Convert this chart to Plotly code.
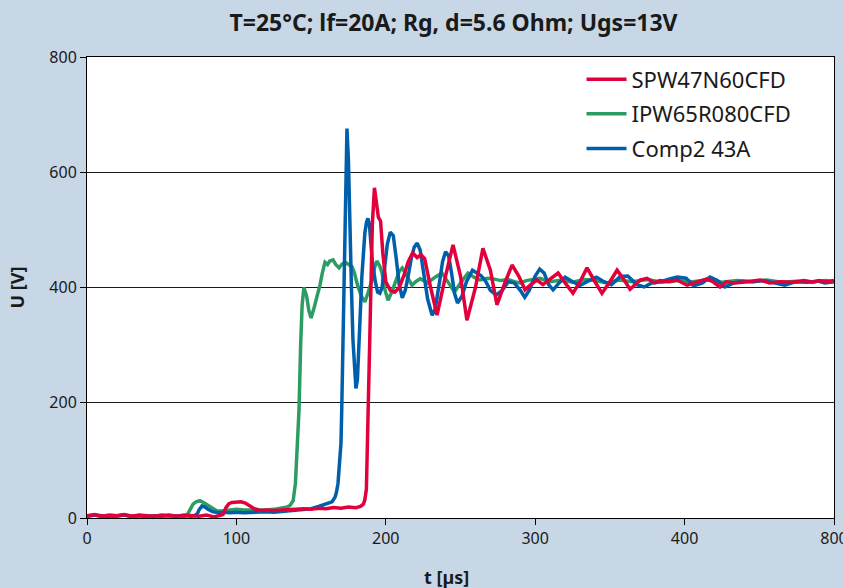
import plotly.graph_objects as go

# ---------------- data ----------------
red_name = "SPW47N60CFD"
red_t = [0, 5, 10, 15, 20, 25, 30, 35, 40, 45,
         50, 55, 60, 65, 70, 75, 80, 85, 88, 91,
         93, 95, 97, 100, 103, 106, 109, 112, 116, 120,
         125, 130, 135, 140, 145, 150, 155, 160, 165, 170,
         175, 180, 183, 185, 186, 187, 188.1, 189, 190, 191,
         192.4, 193.5, 195, 196.5, 198, 200, 203, 206, 209, 212,
         215, 218, 221, 223.5, 226, 230, 234.3, 240, 245, 250,
         254.3, 260, 265, 270, 274.4, 280, 284.5, 289, 293.2, 297,
         301.2, 305.2, 310, 315.3, 320, 325.3, 330, 334.7, 340, 344.7,
         350, 354.8, 359, 363.5, 370.2, 374.8, 380, 383.5, 390, 395,
         401.6, 408, 415, 419, 423.7, 428, 433.7, 441.8, 450.5, 457,
         463.9, 472.6, 480, 485.9, 490, 495.3, 500]
red_v = [4, 6, 3, 5, 4, 6, 3, 5, 4, 3,
         5, 4, 3, 5, 4, 3, 5, 2, 4, 6,
         18, 25, 27, 28, 28, 26, 21, 16, 13, 14,
         13, 14, 15, 15, 16, 15, 17, 16, 18, 17,
         19, 18, 20, 24, 32, 50, 187, 300, 420, 510,
         573, 555, 522, 515, 460, 410, 395, 392, 400, 420,
         445, 460, 452, 457, 450, 400, 352, 420, 474, 420,
         343, 400, 468, 430, 370, 410, 439, 420, 396, 405,
         413, 405, 415, 425, 408, 390, 410, 434, 410, 390,
         410, 430, 415, 397, 413, 416, 408, 412, 410, 413,
         404, 409, 415, 410, 401, 410, 408, 410, 413, 408,
         410, 409, 412, 409, 412, 410, 412]

green_name = "IPW65R080CFD"
green_t = [0, 5, 10, 15, 20, 25, 30, 35, 40, 45,
           50, 55, 60, 65, 67, 69, 71, 73, 75.6, 78,
           81, 84, 87, 90, 95, 100, 105, 110, 115, 120,
           125, 130, 134, 136, 138, 139.5, 140.5, 141.9, 143, 144,
           145.2, 147, 148.5, 150, 152, 154, 156, 157.5, 159.3, 161,
           162.5, 164.7, 166.5, 168.7, 170.5, 172.7, 175, 177.4, 179, 181.4,
           184, 186, 188, 190.8, 192.5, 194, 196, 197.5, 199, 201.5,
           204, 207, 209, 211, 214, 217.5, 220, 223, 225.5, 228,
           233, 237.6, 242, 246, 250, 255, 259, 263, 268, 272,
           277, 282, 286, 290, 294, 298, 303, 310, 318, 325,
           333, 340, 348, 356, 365, 375, 385, 395, 405, 415,
           425, 435, 445, 455, 465, 475, 485, 495, 500]
green_v = [3, 5, 2, 4, 3, 5, 2, 4, 3, 2,
           4, 3, 4, 3, 5, 15, 24, 28, 30, 27,
           22, 16, 12, 12, 14, 15, 14, 14, 13, 14,
           15, 17, 19, 22, 30, 60, 110, 187, 300, 370,
           400, 385, 360, 347, 365, 384, 405, 425, 444, 440,
           446, 448, 440, 434, 440, 444, 440, 436, 425, 401,
           383, 375, 390, 413, 435, 446, 437, 425, 400, 378,
           392, 415, 428, 434, 420, 404, 410, 415, 412, 408,
           418, 425, 408, 392, 408, 425, 418, 413, 416, 415,
           412, 414, 410, 408, 412, 414, 416, 410, 413, 409,
           414, 412, 408, 413, 410, 414, 409, 412, 410, 413,
           409, 412, 410, 413, 409, 411, 410, 412, 410]

blue_name = "Comp2 43A"
blue_t = [0, 5, 10, 15, 20, 25, 30, 35, 40, 45,
          50, 55, 60, 65, 70, 72, 74, 75, 77, 79,
          81, 84, 88, 92, 96, 100, 105, 110, 115, 120,
          125, 130, 135, 140, 145, 150, 155, 160, 164, 166,
          167, 168, 169, 170, 170.5, 171.5, 172.5, 173.3, 174, 175,
          176, 177, 178, 179, 180, 181, 182, 183, 184, 185,
          186, 187, 188, 189, 190, 191, 193, 194.5, 196, 197.5,
          199, 201, 203, 205, 207, 209, 211, 213, 215, 217,
          219, 221, 223, 225, 228, 231, 233, 236, 238, 240,
          242, 244, 246, 248, 251, 254, 258, 261, 264, 267,
          270, 274, 278, 282, 286, 290, 293, 296, 300, 303,
          306, 309, 312, 316, 320, 325, 330, 336, 341, 346,
          351, 357, 362, 368, 373, 378, 384, 390, 395, 401,
          406, 412, 417, 422, 427, 433, 438, 446, 453, 460,
          467, 474, 482, 489, 494, 500]
blue_v = [3, 5, 4, 2, 4, 5, 3, 4, 2, 4,
          3, 5, 3, 4, 3, 4, 8, 14, 21, 19,
          15, 11, 9, 10, 9, 10, 9, 10, 10, 11,
          10, 11, 12, 13, 14, 16, 20, 24, 28, 36,
          45, 60, 90, 130, 187, 330, 500, 620, 676, 620,
          480, 400, 310, 250, 225, 240, 290, 360, 420, 465,
          495, 512, 520, 510, 480, 445, 410, 392, 390, 400,
          430, 475, 496, 490, 450, 405, 382, 395, 420, 450,
          470, 477, 465, 430, 380, 352, 362, 410, 445, 462,
          455, 425, 390, 373, 385, 410, 430, 425, 420, 410,
          395, 387, 395, 410, 408, 395, 383, 395, 420, 432,
          425, 405, 396, 408, 418, 410, 404, 412, 418, 410,
          405, 419, 420, 405, 401, 408, 410, 415, 418, 416,
          403, 408, 418, 412, 401, 408, 411, 410, 412, 408,
          404, 410, 409, 411, 408, 410]

x_tickvals = [0, 100, 200, 300, 400, 500]
x_ticktext = ["0", "100", "200", "300", "400", "800"]
y_tickvals = [0, 200, 400, 600, 800]

title_text = "T=25°C; lf=20A; Rg, d=5.6 Ohm; Ugs=13V"
x_title = "t [µs]"
y_title = "U [V]"

# ---------------- figure ----------------
RED = "#e2003c"
GREEN = "#2b9d63"
BLUE = "#005fab"
FONT = "Noto Sans"
INK = "#1a1a1a"

fig = go.Figure()
fig.add_trace(go.Scatter(x=green_t, y=green_v, mode="lines", name=green_name,
                         line=dict(color=GREEN, width=3.5), legendrank=2,
                         legendgroup="g"))
fig.add_trace(go.Scatter(x=blue_t, y=blue_v, mode="lines", name=blue_name,
                         line=dict(color=BLUE, width=3.5), legendrank=3,
                         legendgroup="b"))
fig.add_trace(go.Scatter(x=red_t, y=red_v, mode="lines", name=red_name,
                         line=dict(color=RED, width=3.5), legendrank=1,
                         legendgroup="r"))

fig.update_layout(
    width=843, height=588,
    margin=dict(l=87, r=9, t=57, b=70, autoexpand=False),
    paper_bgcolor="#c8d7e6",
    plot_bgcolor="#ffffff",
    font=dict(family=FONT, color=INK, size=16),
    title=dict(text="<b>" + title_text + "</b>", x=0.538, xanchor="center",
               y=0.961, yanchor="middle",
               font=dict(family=FONT, size=23, color=INK)),
    showlegend=True,
    legend=dict(x=0.662, y=0.997, xanchor="left", yanchor="top",
                bgcolor="rgba(0,0,0,0)", font=dict(size=22, color=INK),
                tracegroupgap=3, itemwidth=40),
    xaxis=dict(range=[0, 500], tickvals=x_tickvals, ticktext=x_ticktext,
               showgrid=False, zeroline=False, showline=True, linecolor="#000",
               linewidth=1, mirror=True, ticks="outside", ticklen=6,
               tickcolor="#000", automargin=False, ticklabeloverflow="allow",
               tickfont=dict(size=16)),
    yaxis=dict(range=[0, 800], tickvals=y_tickvals, showgrid=True,
               gridcolor=INK, gridwidth=1, zeroline=False, showline=True,
               linecolor="#000", linewidth=1, mirror=True, ticks="outside",
               ticklen=6, tickcolor="#000", automargin=False,
               tickfont=dict(size=16),
               title=dict(text="<b>" + y_title + "</b>", standoff=20,
                          font=dict(size=18))),
    annotations=[dict(text="<b>" + x_title + "</b>", xref="paper", yref="paper",
                      x=0.4806, y=-0.128, xanchor="center", yanchor="middle",
                      showarrow=False, font=dict(size=18, color=INK))],
)

fig.write_html(
    "out.html",
    config={"displayModeBar": False},
    post_script="document.body.style.margin='0';document.body.style.padding='0';"
                "document.body.style.overflow='hidden';",
)
